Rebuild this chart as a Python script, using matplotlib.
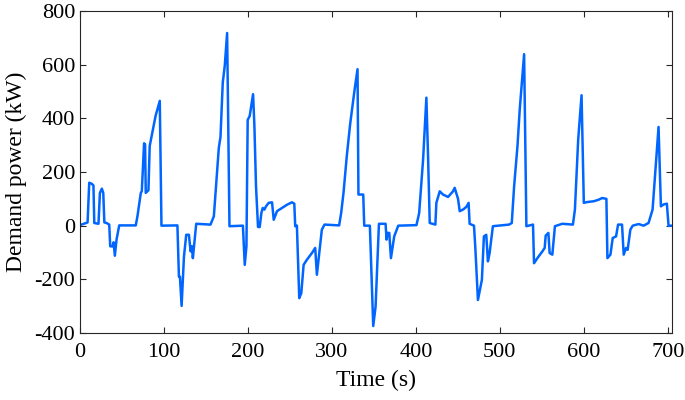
import matplotlib
matplotlib.use("Agg")
import matplotlib.pyplot as plt

time_s = [0, 9, 11, 14, 16, 17, 22, 23.7, 26, 27.7, 29, 31.6, 34.8, 36, 38.8, 40, 41.5, 43.5, 46.7,
          66.4, 68.4, 72.4, 73.6, 76.3, 77.5, 78.3, 81.5, 83, 90, 95, 97, 116, 117.8, 119, 121, 123.8,
          126.5, 129.7, 131.7, 133.3, 134.4, 138.4, 155.4, 159.4, 165.3, 167.3, 170, 172.4, 175.2,
          178, 194, 196.2, 198.2, 199.7, 202.1, 206.1, 207.7, 209.6, 212, 214, 216, 217.6, 219.6,
          221.5, 224.7, 228.7, 230.7, 234.6, 240.5, 246.5, 252.4, 255.2, 256.3, 258.3, 261.1, 263.5,
          266.3, 270.2, 276.2, 280.1, 282.1, 284.9, 288, 291.2, 308.6, 311, 313.8, 317.7, 321.7,
          326.8, 330.5, 331.6, 337.3, 338.5, 345.2, 349.2, 352, 354, 356, 363.9, 365.1, 366.3,
          368.3, 370.3, 374.2, 379, 400.7, 403.9, 408.6, 412.5, 414.5, 416.5, 423.2, 424.4, 428.4,
          432.3, 438.3, 444.2, 446.2, 450.2, 452.2, 456.1, 460.1, 462.8, 464, 469.2, 470.7, 473.9,
          478.6, 481, 483.8, 485.8, 487.8, 491.7, 511, 514.2, 517, 521, 523.7, 528.9, 531.6, 539.5,
          540.7, 544.7, 550.6, 553.4, 554.6, 557.8, 559.3, 562.5, 565.6, 574.3, 587, 589.4, 593.3,
          597.3, 600, 604, 611.9, 617.8, 621.8, 626.9, 628.1, 631.7, 634.4, 638.4, 640.8, 645.5,
          647.5, 650.3, 652.2, 655.4, 658.2, 665.3, 671.2, 677.1, 681.9, 685, 689, 691.8, 695,
          698.9, 700.9, 704]
power_kw = [2, 12, 160, 156, 150, 10, 7, 122, 138, 122, 12, 10, 4, -77, -77, -62, -112, -52, 1,
            1, 35, 122, 128, 307, 303, 122, 132, 297, 409, 465, 0, 1, -190, -190, -299, -115,
            -34, -34, -96, -77, -121, 7, 4, 35, 290, 330, 533, 596, 718,
            -2, 0, -146, -77, 394, 409, 490, 371, 147, -5, -5, 47, 66, 60,
            72, 85, 87, 22, 54, 66, 78, 87, 82, -2, 0, -270, -252,
            -146, -127, -102, -83, -183, -102, -15, 4, 1, 47, 122, 259, 378,
            502, 583, 116, 116, 0, 0, -374, -302, -146, 7, 7, -52, -27,
            -27, -121, -40, 0, 2, 47, 247, 477, 259, 10, 4, 85, 128,
            116, 107, 128, 141, 100, 54, 60, 70, 85, 7, 0, -77, -277,
            -202, -40, -34, -133, -102, -2, 4, 10, 147, 297, 434, 639, -2, 4,
            -140, -121, -96, -83, -37, -27, -102, -108, -2, 7, 4, 60, 321,
            486, 85, 88, 91, 97, 103, 100, -121, -108, -46, -40, 4, 4,
            -108, -83, -90, -15, 0, 6, 0, 10, 60, 197, 368, 72, 79,
            82, 0, 0]

x_ticks = [0, 100, 200, 300, 400, 500, 600, 700]
y_ticks = [-400, -200, 0, 200, 400, 600, 800]

plt.rcParams['font.family'] = ['Liberation Serif', 'DejaVu Serif']

fig = plt.figure(figsize=(6.85, 4.0), dpi=100)
ax = fig.add_axes([0.1168, 0.1675, 0.8642, 0.805])
ax.plot(time_s, power_kw, color='#0066ff', lw=1.8, solid_joinstyle='round')
ax.set_xlim(0, 705)
ax.set_ylim(-400, 800)
ax.set_xticks(x_ticks)
ax.set_yticks(y_ticks)
ax.set_yticklabels([str(v) if v >= 0 else '-' + str(-v) for v in y_ticks])
ax.tick_params(direction='in', top=True, right=True, length=4, width=0.8,
               labelsize=16, colors='#262626')
ax.tick_params(axis='x', pad=7)
ax.tick_params(axis='y', pad=3.5)
for lab in ax.get_xticklabels() + ax.get_yticklabels():
    lab.set_color('black')
for s in ax.spines.values():
    s.set_color('#262626')
    s.set_linewidth(0.8)
ax.set_xlabel('Time (s)', fontsize=17, labelpad=6)
ax.set_ylabel('Demand power (kW)', fontsize=17, labelpad=5)
fig.savefig('out.png', dpi=100)
